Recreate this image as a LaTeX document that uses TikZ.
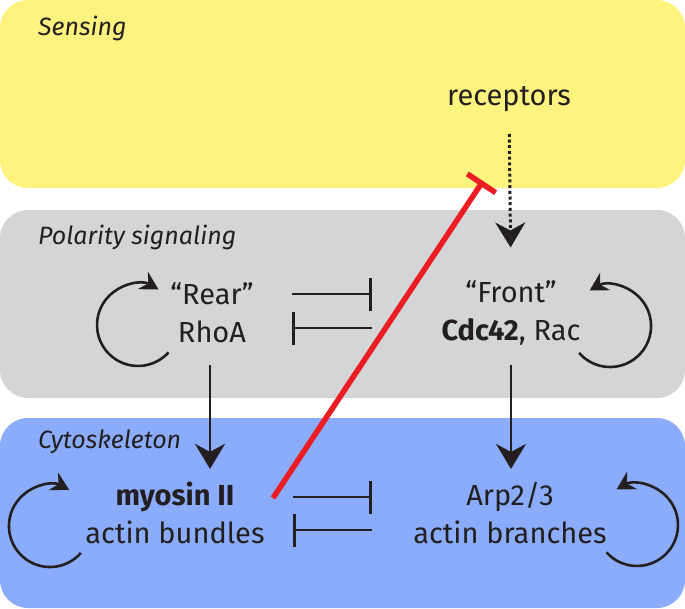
\documentclass[tikz,border=0pt]{standalone}
\usepackage{fontspec}
\setmainfont{Fira Sans}
\usetikzlibrary{
  arrows.meta,
  positioning
}
\definecolor{sense}{HTML}{FFF37F}
\definecolor{polar}{HTML}{D4D5D6}
\definecolor{cyto}{HTML}{8AACFB}
\definecolor{ink}{HTML}{231F20}
\definecolor{inhibred}{HTML}{EC1C24}
\tikzset{
  panel/.style={rounded corners=28pt},
  tier/.style={
    font=\fontsize{25}{30}\selectfont\itshape,
    text=ink,
    anchor=west,
    inner sep=0pt
  },
  species/.style={
    font=\fontsize{29}{38}\selectfont,
    text=ink,
    align=center,
    inner sep=0pt
  },
  arrow/.style={-{Stealth[length=25pt, width=30pt, inset=8pt]}, line width=2.7pt, draw=ink},
  dottedarrow/.style={arrow, dash pattern=on 3pt off 2.7pt, line width=3pt},
  inhibit/.style={-{Bar[width=33pt]}, line width=2.6pt, draw=ink},
  selfloop/.style={-{Stealth[length=18pt, width=20pt, inset=6pt]}, line width=2.6pt, draw=ink},
  redinhibit/.style={-{Bar[width=34pt]}, line width=5.5pt, draw=inhibred}
}

\begin{document}
\begin{tikzpicture}[x=1pt, y=-1pt]
  \useasboundingbox (0,0) rectangle (685,608);
  % three layers
  \fill[panel, sense] (0,0) rectangle (685,188);
  \fill[panel, polar] (0,210) rectangle (685,398);
  \fill[panel, cyto] (0,418) rectangle (685,608);

  \node[tier] (sensing) at (38,28) {Sensing};
  \node[tier] (polarity) at (38,237) {Polarity signaling};
  \node[tier] (cytoskeleton) at (38,442) {Cytoskeleton};

  \node[species] (receptors) at (509,99) {receptors};
  \node[species, minimum width=160pt] (rear) at (212,313) {“Rear”\\RhoA};
  \node[species, minimum width=278pt] (front) at (511,313)
    {“Front”\\\textbf{Cdc42}, Rac};
  \node[species, minimum width=236pt] (myosin) at (175,513)
    {\textbf{myosin II}\\actin bundles};
  \node[species, minimum width=276pt] (arp) at (510,513)
    {Arp2/3\\actin branches};

  \draw[dottedarrow, shorten <=22pt, shorten >=33pt] (receptors.south) -- (front.north);
  \draw[arrow, shorten <=22pt, shorten >=13pt]
    ([xshift=-2pt]rear.south) -- ([xshift=-2pt]rear.south |- myosin.north);
  \draw[arrow, shorten <=19pt, shorten >=13pt]
    (front.south) -- (front.south |- arp.north);

  % mutual inhibition
  \draw[inhibit] ([yshift=19pt]rear.east) -- ([yshift=19pt]rear.east -| front.west);
  \draw[inhibit] ([yshift=-15pt]front.west) -- ([yshift=-15pt]front.west -| rear.east);
  \draw[inhibit] ([yshift=16pt]myosin.east) -- ([yshift=16pt]myosin.east -| arp.west);
  \draw[inhibit] ([yshift=-17pt]arp.west) -- ([yshift=-17pt]arp.west -| myosin.east);

  % positive feedback
  \draw[selfloop] ([shift={(-43.5,39.4)}]rear.center)
    arc[start angle=42, end angle=300, radius=41];
  \draw[selfloop] ([shift={(68.1,39.9)}]front.center)
    arc[start angle=139, end angle=-120, radius=41];
  \draw[selfloop] ([shift={(-94.1,39.9)}]myosin.center)
    arc[start angle=41, end angle=298, radius=41];
  \draw[selfloop] ([shift={(96.5,39.4)}]arp.center)
    arc[start angle=138, end angle=-120, radius=41];

  \coordinate (myoout) at ([shift={(98,-15)}]myosin.center);
  \coordinate (sensecut) at (483,181);
  \draw[redinhibit] (myoout) -- (sensecut);
\end{tikzpicture}
\end{document}
